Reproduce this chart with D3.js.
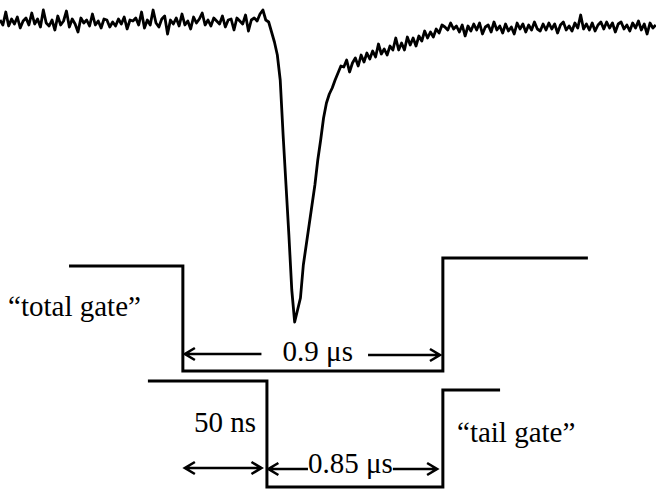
<!DOCTYPE html>
<html>
<head>
<meta charset="utf-8">
<script src="https://cdn.jsdelivr.net/npm/d3@7"></script>
<style>
  body { margin: 0; background: #fff; }
  svg { display: block; }
  .trace { fill: none; stroke: #000; stroke-width: 2.8; stroke-linejoin: round; }
  .gate { fill: none; stroke: #000; stroke-width: 3; }
  .arrow { fill: none; stroke: #000; stroke-width: 2.6; }
  .label { font-family: "Liberation Serif", "Times New Roman", serif; font-size: 29px; fill: #000; }
</style>
</head>
<body>
<div class="chart"></div>
<script>
// pulse trace with the two integration gates (schematic)

// trace: one sample every 10 ns, amplitude in mV
var sampleStep = 10;
var traceValues = [
  2, -3, 10, -4, 3, -2, 5, -6, 1, 4,
  -3, 9, -2, 3, -5, 12, -1, -4, 2, -8,
  6, -3, 1, 11, -5, 3, -2, -10, 4, -1,
  2, -4, 8, -3, 1, -6, 3, 2, -5, 0,
  -4, 3, -2, 5, -7, 2, 1, 4, -3, 10,
  -6, 2, -3, 12, -1, -5, 3, 6, -12, 2,
  -2, 4, -4, 8, -3, 1, -7, 5, -1, 3,
  9, -3, 2, -4, 4, 1, -2, 6, -5, 2,
  3, -8, 4, 1, -2, 7, -9, 2, 4, 1,
  8, 12, 2,
  0, -10, -20, -33, -58, -113, -163, -213, -268, -300,
  -288, -276, -243, -223, -203, -183, -163, -138, -118, -96,
  -81, -72, -66, -58, -51, -44,
  -45, -38, -50, -41, -36, -44, -33, -40, -31, -37,
  -29, -35, -22, -32, -27, -33, -24, -28, -16, -28,
  -21, -28, -15, -23, -16, -24, -14, -19, -9, -16,
  -10, -15, -7, -11, -3, -5, -8, -1, -7, -4,
  -10, -3, -14, -4, -9, -2, -8, -1, -12, -5,
  -3, -10, 0, -8, -4, -11, -2, -9, -5, -12,
  -1, -7, -2, -10, -3, -8, 0, -7, -9, -2,
  -8, -1, -7, -2, -11, -3, 0, -8, -4, -9,
  -1, -6, 7, -7, -2, -8, -1, -9, -3, 0,
  -7, 0, -6, -1, -10, -2, 0, -7, -3, -9,
  -1, -6, 1, -8, -2, -12, -1, -6, -3
];

// gate outlines: [time ns, level]
var totalGate = [[239, -244], [633, -244], [633, -349], [1533, -349], [1533, -236], [2035, -236]];
var tailGate = [[512, -359], [924, -359], [924, -465], [1533, -465], [1533, -368], [1731, -368]];

// arrows: tip is at "to"
var arrows = [
  { from: 905, to: 640, level: -332 },
  { from: 1274, to: 1523, level: -333 },
  { from: 720, to: 640, level: -446 },
  { from: 720, to: 905, level: -446 },
  { from: 1066, to: 929, level: -447 },
  { from: 1360, to: 1513, level: -447 }
];

var labels = [
  { text: "\u201ctotal gate\u201d", t: 28, level: -294, anchor: "start" },
  { text: "0.9 \u03bcs", t: 1100, level: -339, anchor: "middle" },
  { text: "50 ns", t: 779, level: -410, anchor: "middle" },
  { text: "0.85 \u03bcs", t: 1213, level: -451, anchor: "middle" },
  { text: "\u201ctail gate\u201d", t: 1582, level: -420, anchor: "start" }
];

var width = 656,
    height = 489;

var svg = d3.select(".chart").append("svg")
    .attr("width", width)
    .attr("height", height);

var trace = traceValues.map(function(v, i) {
  return { t: i * sampleStep, v: v };
});

var xScale = d3.scaleLinear()
    .domain([0, 900])
    .range([0, 260]);

var yScale = d3.scaleLinear()
    .domain([0, -465])
    .range([22, 487]);

// ------------------------------ trace ---------------------------------
var line = d3.line()
    .x(function(d) { return xScale(d.t); })
    .y(function(d) { return yScale(d.v); });

svg.append("path")
    .datum(trace)
    .attr("class", "trace")
    .attr("d", line);

// ------------------------------ gates ---------------------------------
var gateLine = d3.line()
    .x(function(d) { return xScale(d[0]); })
    .y(function(d) { return yScale(d[1]); });

svg.selectAll(".gate")
    .data([totalGate, tailGate])
    .enter()
    .append("path")
    .attr("class", "gate")
    .attr("d", gateLine);

// ------------------------------ arrows --------------------------------
var head = 10, spread = 6;

svg.selectAll(".arrow")
    .data(arrows)
    .enter()
    .append("path")
    .attr("class", "arrow")
    .attr("d", function(d) {
      var x0 = xScale(d.from), x1 = xScale(d.to), y = yScale(d.level);
      var dir = x1 > x0 ? -1 : 1;
      return "M" + x0 + "," + y + "L" + x1 + "," + y +
             "M" + (x1 + dir * head) + "," + (y - spread) + "L" + x1 + "," + y +
             "L" + (x1 + dir * head) + "," + (y + spread);
    });

// ------------------------------ labels --------------------------------
svg.selectAll(".label")
    .data(labels)
    .enter()
    .append("text")
    .attr("class", "label")
    .attr("x", function(d) { return xScale(d.t); })
    .attr("y", function(d) { return yScale(d.level); })
    .attr("text-anchor", function(d) { return d.anchor; })
    .text(function(d) { return d.text; });
</script>
</body>
</html>
